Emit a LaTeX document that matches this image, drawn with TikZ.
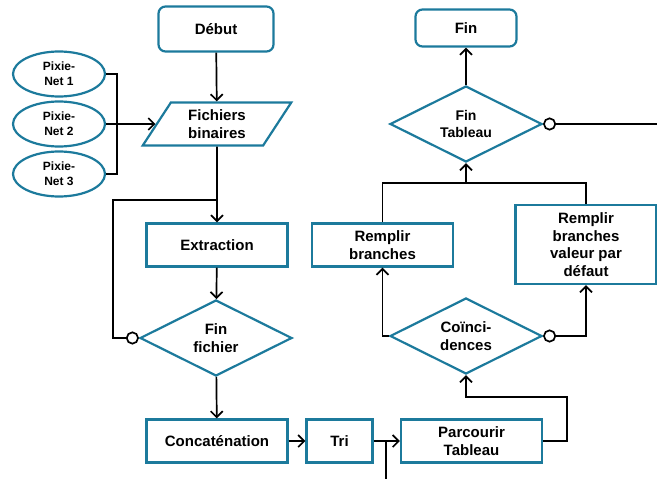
\documentclass[tikz,border=0pt]{standalone}
\usepackage{fontspec}
\setmainfont{Liberation Sans}
\usepackage{tikz}
\usetikzlibrary{shapes.geometric,arrows.meta}
\definecolor{flowblue}{RGB}{28,122,156}

\begin{document}
\begin{tikzpicture}[x=1pt,y=-1pt,
  every node/.style={font=\bfseries\fontsize{15}{17.5}\selectfont,align=center,inner sep=2pt},
  startend/.style={draw=flowblue,line width=2.2pt,rounded corners=7pt,minimum width=115pt,minimum height=45pt},
  procbox/.style={draw=flowblue,line width=2.2pt,minimum width=141pt,minimum height=43pt},
  decision/.style={diamond,draw=flowblue,line width=2.2pt,aspect=2,inner sep=0pt,minimum width=152pt,minimum height=76pt},
  source/.style={ellipse,draw=flowblue,line width=2.2pt,inner sep=0pt,minimum width=92pt,minimum height=45pt,
    font=\bfseries\fontsize{12}{15}\selectfont},
  iobox/.style={trapezium,trapezium left angle=60,trapezium right angle=120,trapezium stretches=true,
    draw=flowblue,line width=2.2pt,minimum width=150pt,minimum height=43pt},
  link/.style={draw,line width=1.7pt},
  flow/.style={link,-{Straight Barb[length=6pt,width=12pt]}},
  nobranch/.style={link,{Circle[open,length=13pt,width=13pt]}-},
  nobranchflow/.style={link,{Circle[open,length=13pt,width=13pt]}-{Straight Barb[length=6pt,width=12pt]}}]
\useasboundingbox (0,0) rectangle (657,479);

\node [startend] (debut) at (216,29) {Début};
\node [iobox] (fichiers) at (217,124) {Fichiers\\binaires};
\node [source] (px1) at (59,74) {Pixie-\\Net 1};
\node [source] (px2) at (59,124) {Pixie-\\Net 2};
\node [source] (px3) at (59,174) {Pixie-\\Net 3};
\node [procbox] (extraction) at (217,245) {Extraction};
\node [decision] (finfich) at (216,338) {Fin\\fichier};
\node [procbox] (concat) at (217,441) {Concaténation};
\node [procbox,minimum width=66pt] (tri) at (339.5,441) {Tri};
\node [procbox] (parcourir) at (471.5,441) {Parcourir\\Tableau};
\node [decision] (coinc) at (466,336) {Coïnci-\\dences};
\node [procbox] (rempl) at (382.5,245) {Remplir\\branches};
\node [procbox,minimum height=79pt] (rempldef) at (586,244.5) {Remplir\\branches\\valeur par\\défaut};
\node [decision,font=\bfseries\fontsize{14}{17}\selectfont] (fintab) at (466,124) {Fin\\Tableau};
\node [startend,minimum width=101pt,minimum height=37pt] (fin) at (466,28) {Fin};

\coordinate (bracket) at (117,124);
\coordinate (loopcorner) at (113,200);
\coordinate (loopjoin) at (217,200);
\coordinate (trijoin) at (386,441);
\coordinate (bottomend) at (386,479);
\coordinate (parcturn) at (567,397);
\coordinate (merge) at (466,183);
\coordinate (rightend) at (657,124);

\draw [flow] (debut) -- (fichiers);
\draw [link] (px1.east) -| (bracket) |- (px3.east);
\draw [flow] (px2) -- (fichiers);
\draw [flow] (fichiers) -- (extraction);
\draw [nobranch] (finfich.west) -| (loopcorner) -- (loopjoin);
\draw [flow] (extraction) -- (finfich);
\draw [flow] (finfich) -- (concat);
\draw [flow] (concat) -- (tri);
\draw [flow] (tri) -- (parcourir);
\draw [link] (trijoin) -- (bottomend);
\draw [flow] (parcourir.east) -| (parcturn) -| (coinc.south);
\draw [flow] (coinc.west) -| (rempl.south);
\draw [nobranchflow] (coinc.east) -| (rempldef.south);
\draw [link] (rempl.north) |- (merge) -| (rempldef.north);
\draw [flow] (merge) -- (fintab.south);
\draw [flow] (fintab) -- (fin);
\draw [nobranch] (fintab.east) -- (rightend);
\end{tikzpicture}
\end{document}
